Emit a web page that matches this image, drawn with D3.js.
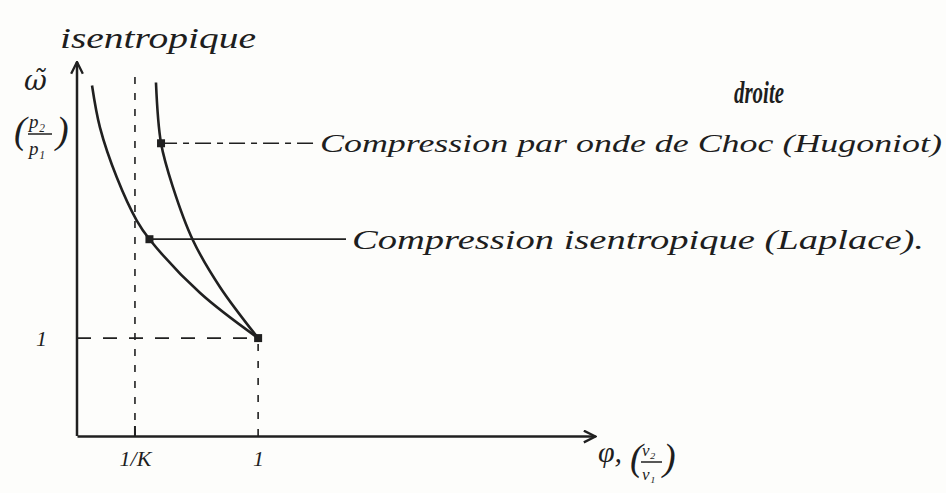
<!DOCTYPE html>
<html>
<head>
<meta charset="utf-8">
<script src="https://cdn.jsdelivr.net/npm/d3@7"></script>
<style>
  html, body { margin: 0; padding: 0; background: #fdfdfb; }
  svg text { font-family: "Liberation Serif", "DejaVu Serif", serif; font-style: italic; fill: #1e1e1e; }
</style>
</head>
<body>
<svg id="chart" width="946" height="493"></svg>
<script>
// Compression curves, volume ratio φ (v2/v1) against pressure ratio ω̃ (p2/p1)
const invK = 0.32;                 // limiting volume ratio 1/K
const laplacePhi   = [0.083, 0.127, 0.22, 0.33, 0.40, 0.68, 1.0];
const laplaceOmega = [3.58, 3.15, 2.64, 2.20, 2.01, 1.46, 1.0];
const hugoniotPhi   = [0.436, 0.464, 0.53, 0.64, 0.79, 1.0];
const hugoniotOmega = [3.61, 2.99, 2.54, 2.00, 1.52, 1.0];
const xTickValues = [invK, 1];
const xTickLabels = ["1/K", "1"];
const yTickValues = [1];
const yTickLabels = ["1"];
// marked points where the labels attach
const hugoniotMark = { phi: 0.464, omega: 2.99 };
const laplaceMark  = { phi: 0.40,  omega: 2.01 };

const ink = "#202020";
const svg = d3.select("#chart");

const x = d3.scaleLinear().domain([0, 2.86]).range([77, 595]);
const y = d3.scaleLinear().domain([0, 3.82]).range([436, 62]);

// arrowheads
const defs = svg.append("defs");
defs.append("marker")
  .attr("id", "arrow")
  .attr("viewBox", "0 0 12 12")
  .attr("refX", 11).attr("refY", 6)
  .attr("markerWidth", 14).attr("markerHeight", 14)
  .attr("markerUnits", "userSpaceOnUse")
  .attr("orient", "auto")
  .append("path")
  .attr("d", "M1,1 L11,6 L1,11")
  .attr("fill", "none").attr("stroke", ink).attr("stroke-width", 2);

// axes
const xAxis = d3.axisBottom(x)
  .tickValues(xTickValues)
  .tickFormat((d, i) => xTickLabels[i])
  .tickSizeInner(0).tickSizeOuter(0).tickPadding(14);
const gx = svg.append("g").attr("transform", `translate(0,${y(0)})`).call(xAxis);
gx.select(".domain").attr("stroke", ink).attr("stroke-width", 2.5).attr("marker-end", "url(#arrow)");
gx.selectAll("text").attr("font-size", 22).attr("fill", ink).attr("font-family", "Liberation Serif").attr("font-style", "italic");

const yAxis = d3.axisLeft(y)
  .tickValues(yTickValues)
  .tickFormat((d, i) => yTickLabels[i])
  .tickSizeInner(0).tickSizeOuter(0).tickPadding(30);
const gy = svg.append("g").attr("transform", `translate(${x(0)},0)`).call(yAxis);
gy.select(".domain").remove();
gy.selectAll("text").attr("font-size", 22).attr("fill", ink).attr("font-family", "Liberation Serif").attr("font-style", "italic");
svg.append("line")
  .attr("x1", x(0)).attr("y1", y(0))
  .attr("x2", x(0)).attr("y2", y(3.82))
  .attr("stroke", ink).attr("stroke-width", 2.5)
  .attr("marker-end", "url(#arrow)");

// small tick at 1/K on the φ axis
svg.append("line")
  .attr("x1", x(invK)).attr("x2", x(invK))
  .attr("y1", y(0)).attr("y2", y(0) - 10)
  .attr("stroke", ink).attr("stroke-width", 2);

// guide lines
const guide = svg.append("g").attr("stroke", ink).attr("fill", "none");
guide.append("line")
  .attr("x1", x(invK)).attr("x2", x(invK))
  .attr("y1", y(0)).attr("y2", y(3.7))
  .attr("stroke-width", 1.6).attr("stroke-dasharray", "7,9");
guide.append("line")
  .attr("x1", x(1)).attr("x2", x(1))
  .attr("y1", y(0)).attr("y2", y(1))
  .attr("stroke-width", 1.6).attr("stroke-dasharray", "7,10");
guide.append("line")
  .attr("x1", x(0)).attr("x2", x(1))
  .attr("y1", y(1)).attr("y2", y(1))
  .attr("stroke-width", 1.8).attr("stroke-dasharray", "14,12");

// curves
const line = d3.line()
  .x(d => x(d[0])).y(d => y(d[1]))
  .curve(d3.curveCatmullRom.alpha(0.5));
const laplace = laplacePhi.map((p, i) => [p, laplaceOmega[i]]);
const hugoniot = hugoniotPhi.map((p, i) => [p, hugoniotOmega[i]]);
svg.append("path").datum(laplace).attr("d", line)
  .attr("fill", "none").attr("stroke", ink).attr("stroke-width", 2.6);
svg.append("path").datum(hugoniot).attr("d", line)
  .attr("fill", "none").attr("stroke", ink).attr("stroke-width", 2.6);

// label leaders
svg.append("line")
  .attr("x1", x(hugoniotMark.phi)).attr("x2", 316)
  .attr("y1", y(hugoniotMark.omega)).attr("y2", y(hugoniotMark.omega))
  .attr("stroke", ink).attr("stroke-width", 1.6).attr("stroke-dasharray", "16,6,6,6");
svg.append("line")
  .attr("x1", x(laplaceMark.phi)).attr("x2", 346)
  .attr("y1", y(laplaceMark.omega)).attr("y2", y(laplaceMark.omega))
  .attr("stroke", ink).attr("stroke-width", 1.8);

// marked points
[hugoniotMark, laplaceMark, { phi: 1, omega: 1 }].forEach(m => {
  svg.append("rect")
    .attr("x", x(m.phi) - 4).attr("y", y(m.omega) - 4)
    .attr("width", 8).attr("height", 8).attr("fill", ink);
});

// text
svg.append("text").attr("x", 320).attr("y", 152).attr("font-size", 26)
  .attr("textLength", 622).attr("lengthAdjust", "spacingAndGlyphs")
  .text("Compression par onde de Choc (Hugoniot)");
svg.append("text").attr("x", 352).attr("y", 249).attr("font-size", 27)
  .attr("textLength", 572).attr("lengthAdjust", "spacingAndGlyphs")
  .text("Compression isentropique (Laplace).");
svg.append("text").attr("x", 734).attr("y", 103).attr("font-size", 32)
  .attr("font-weight", "bold")
  .attr("textLength", 50).attr("lengthAdjust", "spacingAndGlyphs")
  .text("droite");
svg.append("text").attr("x", 60).attr("y", 48).attr("font-size", 30)
  .attr("textLength", 196).attr("lengthAdjust", "spacingAndGlyphs")
  .text("isentropique");

// ordinate label: ω̃ (p2/p1)
svg.append("text").attr("x", 24).attr("y", 90)
  .style("font-family", "'DejaVu Serif'").style("font-size", "28px")
  .text("ω\u0303");
svg.append("text").attr("x", 14).attr("y", 143).attr("font-size", 38).attr("font-style", "normal").text("(");
svg.append("text").attr("x", 56).attr("y", 143).attr("font-size", 38).attr("font-style", "normal").text(")");
svg.append("text").attr("x", 29).attr("y", 128).attr("font-size", 19).text("p₂");
svg.append("line").attr("x1", 28).attr("x2", 52).attr("y1", 134).attr("y2", 134).attr("stroke", ink).attr("stroke-width", 1.5);
svg.append("text").attr("x", 29).attr("y", 155).attr("font-size", 19).text("p₁");

// abscissa label: φ, (v2/v1)
svg.append("text").attr("x", 598).attr("y", 462).attr("font-size", 30).text("φ,");
svg.append("text").attr("x", 630).attr("y", 470).attr("font-size", 38).attr("font-style", "normal").text("(");
svg.append("text").attr("x", 663).attr("y", 470).attr("font-size", 38).attr("font-style", "normal").text(")");
svg.append("text").attr("x", 642).attr("y", 456).attr("font-size", 17).text("v₂");
svg.append("line").attr("x1", 641).attr("x2", 662).attr("y1", 462).attr("y2", 462).attr("stroke", ink).attr("stroke-width", 1.5);
svg.append("text").attr("x", 642).attr("y", 480).attr("font-size", 17).text("v₁");
</script>
</body>
</html>
